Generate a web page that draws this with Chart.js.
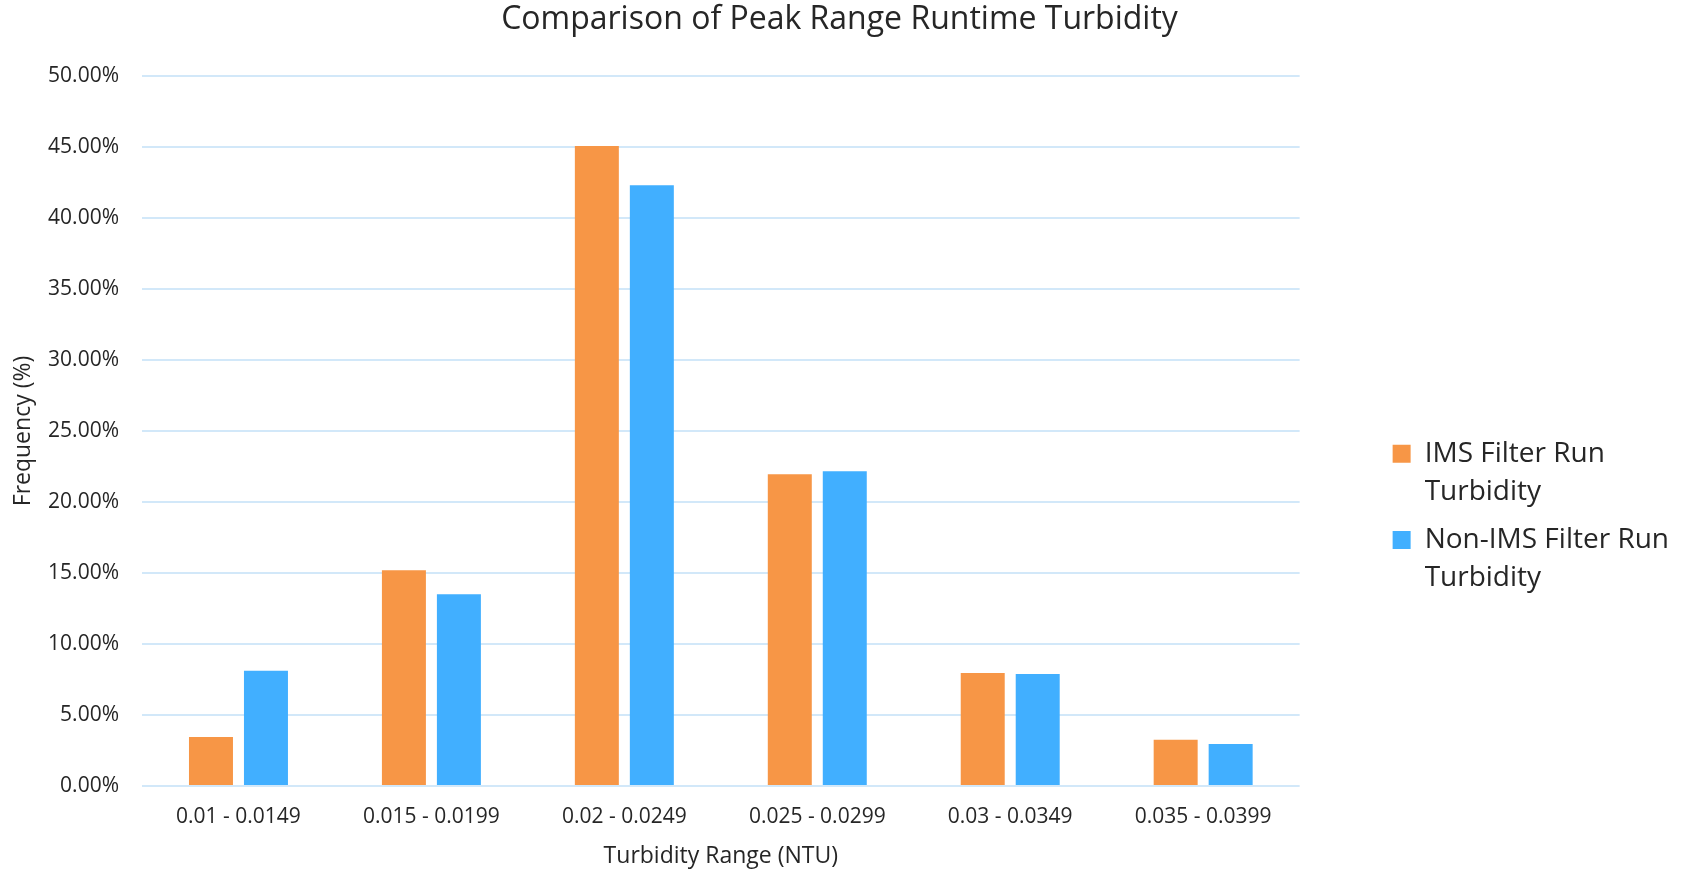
<!DOCTYPE html>
<html>
<head>
<meta charset="utf-8">
<script src="https://cdn.jsdelivr.net/npm/chart.js@4/dist/chart.umd.min.js"></script>
<style>
  html, body { margin: 0; padding: 0; background: #ffffff; }
  #wrap { width: 1683px; height: 871px; }
</style>
</head>
<body>
<div id="wrap"><canvas id="chart" width="1683" height="871"></canvas></div>
<script>
// Turbidity ranges (NTU) and share of runs falling in each range (%)
const categories = ['0.01 - 0.0149', '0.015 - 0.0199', '0.02 - 0.0249', '0.025 - 0.0299', '0.03 - 0.0349', '0.035 - 0.0399'];
const imsValues = [3.45, 15.19, 45.07, 21.95, 7.96, 3.26];
const nonImsValues = [8.12, 13.50, 42.30, 22.16, 7.89, 2.96];
const seriesNames = [['IMS Filter Run', 'Turbidity'], ['Non-IMS Filter Run', 'Turbidity']];
const yTicks = [0, 5, 10, 15, 20, 25, 30, 35, 40, 45, 50];

const FONT = "'Open Sans', 'Liberation Sans', sans-serif";
const TEXT = '#262626';
const GRID = '#d2e8f9';
const colors = ['#F79646', '#41AFFF'];

new Chart(document.getElementById('chart'), {
  type: 'bar',
  data: {
    labels: categories,
    datasets: [
      { label: seriesNames[0].join(' '), data: imsValues, backgroundColor: colors[0], yAxisID: 'y' },
      { label: seriesNames[1].join(' '), data: nonImsValues, backgroundColor: colors[1], yAxisID: 'y' }
    ]
  },
  options: {
    responsive: false,
    devicePixelRatio: 1,
    animation: false,
    categoryPercentage: 0.57,
    barPercentage: 0.8,
    layout: { padding: { left: 0, right: 4, top: 0, bottom: 0 } },
    plugins: {
      tooltip: { enabled: false },
      title: {
        display: true,
        text: 'Comparison of Peak Range Runtime Turbidity',
        color: TEXT,
        font: { family: FONT, size: 32, weight: 'normal', lineHeight: 1.2 },
        padding: { top: 1, bottom: 36.6 }
      },
      legend: {
        position: 'right',
        align: 'center',
        fullSize: false,
        maxWidth: 340,
        title: { display: true, text: '', font: { size: 12, lineHeight: 1 }, padding: { top: 168, bottom: 0 } },
        labels: {
          boxWidth: 18,
          boxHeight: 18,
          padding: 10,
          color: TEXT,
          font: { family: FONT, size: 28, lineHeight: 1.36 },
          generateLabels: (chart) => chart.data.datasets.map((ds, i) => ({
            text: seriesNames[i],
            fillStyle: ds.backgroundColor,
            strokeStyle: ds.backgroundColor,
            fontColor: TEXT,
            lineWidth: 0,
            hidden: false,
            datasetIndex: i
          }))
        }
      }
    },
    scales: {
      x: {
        grid: { display: false, drawTicks: false },
        border: { display: false },
        ticks: { color: TEXT, font: { family: FONT, size: 21 }, padding: 18, maxRotation: 0 },
        title: {
          display: true,
          text: 'Turbidity Range (NTU)',
          color: TEXT,
          font: { family: FONT, size: 23, lineHeight: 1.2 },
          padding: { top: 10, bottom: 1 }
        },
        afterFit: (s) => { s.height = 85; }
      },
      y: {
        min: 0,
        max: 50,
        grid: { color: GRID, lineWidth: 2, drawTicks: false },
        border: { display: false },
        afterBuildTicks: (s) => { s.ticks = yTicks.map(v => ({ value: v })); },
        ticks: {
          color: TEXT,
          font: { family: FONT, size: 21 },
          padding: 23,
          callback: (v) => Number(v).toFixed(2) + '%'
        },
        title: {
          display: true,
          text: 'Frequency (%)',
          color: TEXT,
          font: { family: FONT, size: 23, lineHeight: 1.2 },
          padding: { top: 10, bottom: 0 }
        },
        afterFit: (s) => { s.width = 142; }
      },
      spacer: {
        type: 'linear',
        position: 'right',
        display: true,
        grid: { display: false, drawTicks: false },
        border: { display: false },
        ticks: { display: false },
        afterFit: (s) => { s.width = 83; }
      }
    }
  }
});
</script>
</body>
</html>
